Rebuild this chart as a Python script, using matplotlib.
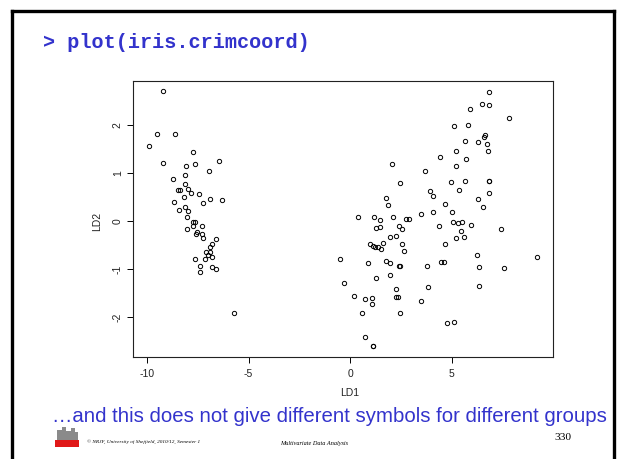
import matplotlib
matplotlib.use("Agg")
import matplotlib.pyplot as plt
from matplotlib.lines import Line2D
from matplotlib.patches import Rectangle

# left cluster (LD1, LD2)
ld1_left = [-9.23, -9.52, -8.64, -9.90, -9.20, -7.75, -7.64, -6.45, -8.08, -6.93,
            -8.74, -8.13, -8.14, -8.46, -8.39, -7.96, -7.83, -8.19, -7.42, -6.88,
            -6.29, -8.67, -7.26, -8.11, -8.41, -7.96, -8.05, -7.72, -7.65, -7.75,
            -8.01, -7.27, -7.55, -7.57, -7.29, -7.22, -6.60, -6.81, -6.90, -7.09,
            -6.90, -6.99, -6.81, -7.16, -7.64, -7.39, -6.81, -6.60, -7.39, -5.71]
ld2_left = [2.71, 1.81, 1.82, 1.57, 1.22, 1.45, 1.20, 1.25, 1.14, 1.05,
            0.88, 0.96, 0.77, 0.64, 0.64, 0.67, 0.58, 0.51, 0.56, 0.46,
            0.44, 0.39, 0.37, 0.30, 0.23, 0.21, 0.09, -0.01, -0.01, -0.11,
            -0.16, -0.09, -0.22, -0.27, -0.27, -0.35, -0.38, -0.48, -0.53, -0.65,
            -0.65, -0.70, -0.75, -0.78, -0.78, -0.93, -0.96, -0.99, -1.06, -1.91]

# right cluster
ld1_right = [6.86, 6.52, 6.86, 5.90, 7.85, 5.12, 5.80, 6.67, 6.62, 6.29,
             6.77, 5.67, 5.22, 6.81, 5.73, 4.43, 2.09, 5.22, 3.71, 2.45,
             4.98, 5.67, 6.83, 6.83, 3.92, 4.07, 5.35, 6.83, 6.31, 1.79,
             1.86, 4.68, 6.54, 5.01, 3.51, 4.07, 0.38, 1.20, 1.46, 2.13,
             2.74, 2.91, 1.30, 1.46, 2.41, 2.58, 4.38, 5.06, 5.30, 5.53,
             5.98, 5.47, 5.21, 5.62, 7.44, 1.95, 2.28, 0.99, 1.12, 1.25,
             1.40, 1.53, 1.61, 2.55, 2.66, 4.68, 6.24, -0.49, 0.90, 1.76,
             1.99, 2.41, 2.48, 3.81, 4.50, 4.62, 6.34, 7.60, 9.23, 1.26,
             1.95, -0.31, 2.27, 3.84, 6.34, 0.20, 0.76, 1.08, 1.10, 2.26,
             2.38, 3.51, 0.59, 2.48, 4.76, 5.11, 0.74, 1.15, 1.15]
ld2_right = [2.70, 2.44, 2.42, 2.34, 2.14, 1.98, 2.01, 1.80, 1.75, 1.64,
             1.61, 1.67, 1.46, 1.46, 1.29, 1.34, 1.19, 1.14, 1.05, 0.80,
             0.82, 0.83, 0.84, 0.84, 0.63, 0.53, 0.66, 0.59, 0.46, 0.48,
             0.33, 0.35, 0.30, 0.20, 0.16, 0.19, 0.09, 0.08, 0.03, 0.09,
             0.05, 0.05, -0.14, -0.13, -0.09, -0.16, -0.11, -0.02, -0.04, -0.02,
             -0.07, -0.20, -0.35, -0.32, -0.17, -0.32, -0.31, -0.48, -0.51, -0.53,
             -0.54, -0.57, -0.45, -0.47, -0.62, -0.47, -0.70, -0.78, -0.88, -0.82,
             -0.88, -0.93, -0.93, -0.93, -0.86, -0.85, -0.96, -0.97, -0.74, -1.19,
             -1.13, -1.29, -1.41, -1.38, -1.36, -1.55, -1.63, -1.59, -1.72, -1.57,
             -1.57, -1.66, -1.91, -1.92, -2.13, -2.10, -2.41, -2.60, -2.60]

xticks = [-10, -5, 0, 5]
yticks = [-2, -1, 0, 1, 2]

W, H = 621, 459
BLUE = "#3333cc"


def px(x, y):
    # slide pixel position -> figure fraction
    return x / W, 1 - y / H


fig = plt.figure(figsize=(W / 100, H / 100), dpi=100)
fig.patch.set_facecolor("white")

# slide frame (left, top, right)
for xs, ys in [([11.5, 11.5], [H, 10.5]), ([11.5, 614], [10.5, 10.5]), ([614, 614], [10.5, H])]:
    fig.add_artist(Line2D([x / W for x in xs], [1 - y / H for y in ys],
                          transform=fig.transFigure, color="black", lw=2.4))

fig.text(*px(43, 43), "> plot(iris.crimcoord)", family="Liberation Mono",
         weight="bold", size=14.5, color=BLUE, va="center", ha="left")

ax = fig.add_axes([133.3 / W, 1 - 357 / H, (553 - 133.3) / W, (357 - 81.3) / H])
x = ld1_left + ld1_right
y = ld2_left + ld2_right
ax.plot(x, y, "o", ms=3.1, mfc="none", mec="black", mew=0.7, ls="none")
ax.set_xlim(-10.675, 10.0)
ax.set_ylim(-2.829, 2.915)
ax.set_xticks(xticks)
ax.set_yticks(yticks)
ax.set_xticklabels([str(t) for t in xticks])
ax.set_yticklabels([str(t) for t in yticks])
for s in ax.spines.values():
    s.set_linewidth(0.8)
    s.set_color("#222222")
ax.tick_params(direction="out", length=4.5, width=0.7, labelsize=7.5,
               labelcolor="#222222", pad=3)
ax.tick_params(axis="x", pad=4)
for lab in ax.get_yticklabels():
    lab.set_rotation(90)
    lab.set_va("center")
for lab in ax.get_xticklabels() + ax.get_yticklabels():
    lab.set_family("Liberation Sans")

fig.text(*px(349.5, 393), "LD1", family="Liberation Sans", size=7.5,
         color="#222222", ha="center", va="center")
fig.text(*px(97, 221), "LD2", family="Liberation Sans", size=7.5,
         color="#222222", ha="center", va="center", rotation=90)

fig.text(*px(52, 416), "\u2026and this does not give different symbols for different groups",
         family="Liberation Sans", size=14.7, color=BLUE, ha="left", va="center")

# footer: small logo, credits, page number
fig.add_artist(Rectangle(px(55, 447), 24 / W, 7 / H, transform=fig.transFigure,
                         color="#e01818", lw=0))
for bx, bw, bh in [(57, 5, 10), (62, 4, 13), (66, 5, 9), (71, 4, 12), (75, 3, 8)]:
    fig.add_artist(Rectangle(px(bx, 440), bw / W, bh / H, transform=fig.transFigure,
                             color="#8a8a8a", lw=0))
fig.text(*px(87, 442), "\u00a9 NRJF, University of Sheffield, 2010/12, Semester 1",
         family="Liberation Serif", style="italic", size=3.8, ha="left", va="center")
fig.text(*px(280, 443), "Multivariate Data Analysis", family="Liberation Serif",
         style="italic", size=4.5, ha="left", va="center")
fig.text(*px(554, 437), "330", family="Liberation Serif", size=8.2,
         ha="left", va="center")

fig.savefig("out.png", dpi=100)
